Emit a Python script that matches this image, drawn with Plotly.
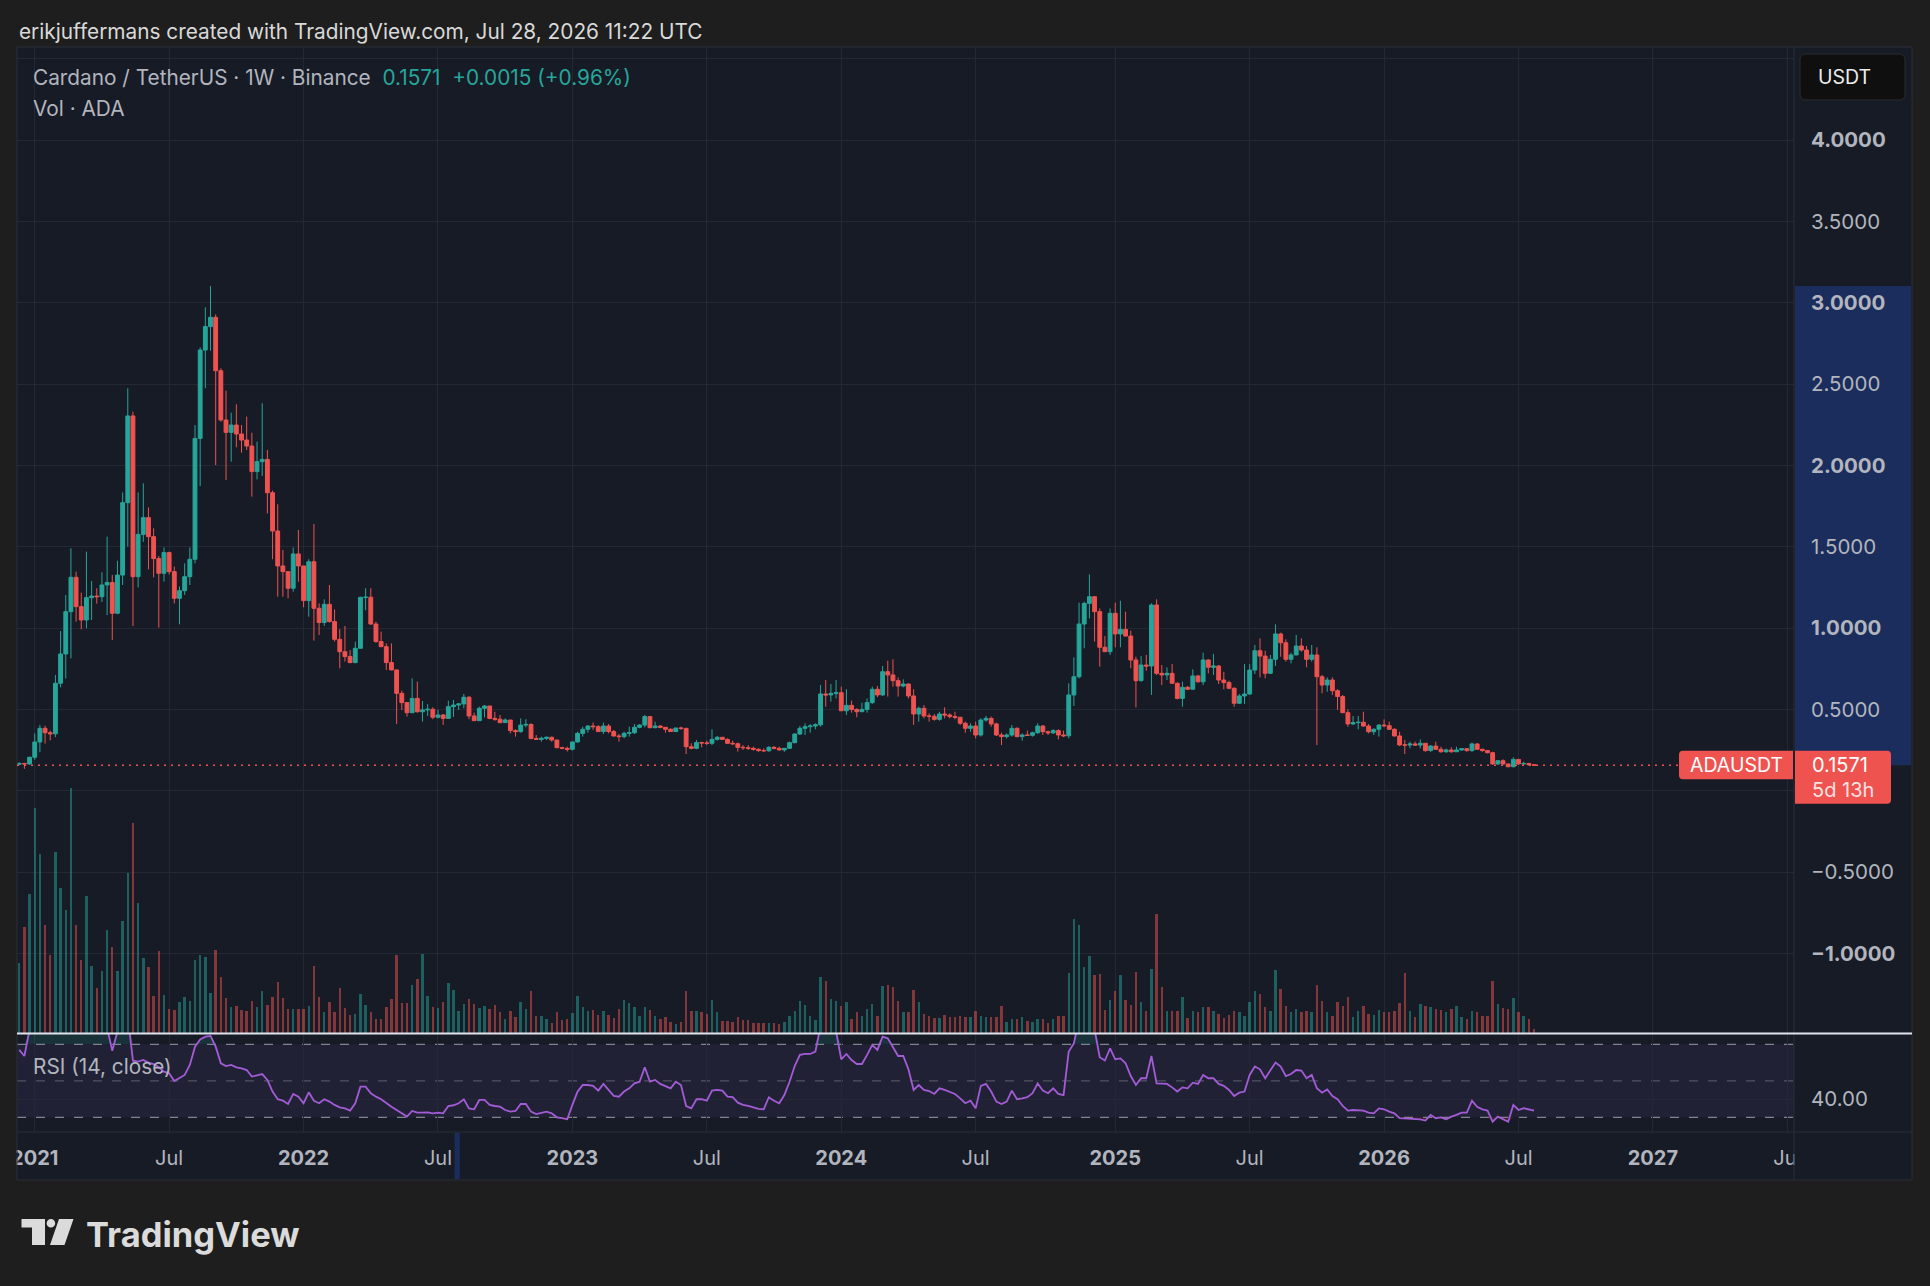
import pandas as pd
import plotly.graph_objects as go

# ---------------- data (weekly ADA/USDT) ----------------
week_start = "2020-12-14"
first_open = 0.163
closes = [
    0.168, 0.165, 0.206, 0.300, 0.384, 0.357, 0.350, 0.661, 0.841, 1.101,
    1.312, 1.132, 1.050, 1.187, 1.197, 1.193, 1.265, 1.280, 1.091, 1.326,
    1.771, 2.304, 1.316, 1.576, 1.679, 1.562, 1.427, 1.337, 1.464, 1.347,
    1.183, 1.230, 1.316, 1.423, 2.166, 2.709, 2.853, 2.910, 2.582, 2.279,
    2.203, 2.248, 2.193, 2.156, 2.119, 1.962, 2.023, 2.037, 1.832, 1.597,
    1.382, 1.347, 1.245, 1.456, 1.382, 1.169, 1.408, 1.122, 1.034, 1.146,
    1.040, 0.931, 0.855, 0.825, 0.788, 0.876, 1.189, 1.190, 1.025, 0.917,
    0.886, 0.788, 0.743, 0.599, 0.542, 0.480, 0.568, 0.486, 0.497, 0.501,
    0.452, 0.466, 0.445, 0.517, 0.527, 0.534, 0.575, 0.460, 0.431, 0.507,
    0.521, 0.445, 0.440, 0.419, 0.435, 0.370, 0.364, 0.404, 0.408, 0.322,
    0.316, 0.322, 0.329, 0.312, 0.265, 0.261, 0.255, 0.300, 0.353, 0.378,
    0.398, 0.394, 0.364, 0.398, 0.364, 0.337, 0.333, 0.353, 0.357, 0.390,
    0.404, 0.456, 0.388, 0.398, 0.390, 0.378, 0.364, 0.386, 0.384, 0.271,
    0.261, 0.296, 0.294, 0.292, 0.316, 0.329, 0.316, 0.292, 0.289, 0.267,
    0.265, 0.261, 0.255, 0.247, 0.246, 0.267, 0.261, 0.251, 0.261, 0.296,
    0.349, 0.384, 0.394, 0.398, 0.406, 0.595, 0.589, 0.599, 0.603, 0.492,
    0.525, 0.500, 0.486, 0.500, 0.542, 0.624, 0.589, 0.732, 0.712, 0.677,
    0.644, 0.656, 0.583, 0.472, 0.507, 0.460, 0.458, 0.439, 0.472, 0.466,
    0.456, 0.452, 0.415, 0.384, 0.398, 0.343, 0.435, 0.445, 0.411, 0.343,
    0.333, 0.343, 0.384, 0.333, 0.343, 0.341, 0.357, 0.398, 0.363, 0.356,
    0.370, 0.343, 0.338, 0.589, 0.701, 1.025, 1.152, 1.193, 1.101, 0.882,
    0.855, 1.091, 0.964, 0.992, 0.951, 0.804, 0.677, 0.773, 0.767, 1.142,
    0.722, 0.712, 0.722, 0.661, 0.568, 0.636, 0.624, 0.706, 0.670, 0.804,
    0.759, 0.767, 0.681, 0.665, 0.630, 0.538, 0.583, 0.595, 0.742, 0.861,
    0.828, 0.722, 0.808, 0.964, 0.910, 0.808, 0.835, 0.890, 0.865, 0.808,
    0.835, 0.701, 0.650, 0.681, 0.615, 0.579, 0.480, 0.411, 0.419, 0.421,
    0.398, 0.363, 0.378, 0.404, 0.400, 0.378, 0.337, 0.282, 0.281, 0.288,
    0.281, 0.292, 0.247, 0.275, 0.255, 0.240, 0.251, 0.240, 0.251, 0.259,
    0.247, 0.288, 0.255, 0.247, 0.234, 0.165, 0.185, 0.165, 0.148, 0.193,
    0.165, 0.168, 0.160, 0.1571,
]
highs = [
    0.175, 0.172, 0.210, 0.353, 0.405, 0.400, 0.370, 0.712, 0.982, 1.203,
    1.490, 1.347, 1.218, 1.470, 1.290, 1.245, 1.343, 1.562, 1.327, 1.414,
    1.834, 2.474, 2.330, 1.834, 1.890, 1.742, 1.613, 1.443, 1.496, 1.470,
    1.378, 1.255, 1.398, 1.496, 2.248, 2.726, 2.972, 3.103, 2.928, 2.597,
    2.459, 2.324, 2.375, 2.248, 2.300, 2.201, 2.146, 2.382, 2.095, 1.845,
    1.761, 1.480, 1.347, 1.496, 1.603, 1.382, 1.423, 1.640, 1.152, 1.177,
    1.265, 1.115, 0.993, 1.013, 0.865, 0.917, 1.193, 1.245, 1.245, 1.040,
    0.978, 0.906, 0.906, 0.743, 0.616, 0.542, 0.691, 0.671, 0.552, 0.533,
    0.513, 0.497, 0.472, 0.554, 0.558, 0.540, 0.595, 0.583, 0.480, 0.517,
    0.527, 0.521, 0.486, 0.466, 0.445, 0.429, 0.378, 0.445, 0.440, 0.415,
    0.343, 0.333, 0.333, 0.333, 0.312, 0.271, 0.271, 0.302, 0.363, 0.394,
    0.404, 0.419, 0.404, 0.419, 0.410, 0.374, 0.349, 0.363, 0.394, 0.410,
    0.410, 0.466, 0.460, 0.425, 0.404, 0.390, 0.384, 0.386, 0.394, 0.378,
    0.292, 0.312, 0.302, 0.308, 0.378, 0.337, 0.329, 0.322, 0.308, 0.296,
    0.281, 0.281, 0.271, 0.261, 0.261, 0.275, 0.275, 0.271, 0.263, 0.302,
    0.353, 0.398, 0.415, 0.410, 0.415, 0.650, 0.681, 0.656, 0.681, 0.640,
    0.624, 0.554, 0.507, 0.541, 0.568, 0.640, 0.644, 0.767, 0.800, 0.808,
    0.697, 0.685, 0.661, 0.624, 0.517, 0.527, 0.476, 0.472, 0.486, 0.513,
    0.476, 0.486, 0.452, 0.425, 0.415, 0.425, 0.445, 0.460, 0.456, 0.419,
    0.357, 0.353, 0.404, 0.390, 0.353, 0.370, 0.363, 0.415, 0.404, 0.370,
    0.378, 0.378, 0.370, 0.661, 0.820, 1.156, 1.162, 1.330, 1.197, 1.121,
    0.951, 1.121, 1.156, 1.168, 1.101, 0.984, 0.824, 0.828, 0.835, 1.152,
    1.177, 0.773, 0.759, 0.779, 0.665, 0.671, 0.644, 0.747, 0.712, 0.849,
    0.808, 0.841, 0.773, 0.732, 0.677, 0.636, 0.595, 0.779, 0.779, 0.896,
    0.937, 0.861, 0.835, 1.023, 0.972, 0.931, 0.849, 0.958, 0.937, 0.890,
    0.896, 0.882, 0.712, 0.697, 0.697, 0.624, 0.589, 0.500, 0.460, 0.460,
    0.486, 0.410, 0.384, 0.410, 0.439, 0.425, 0.384, 0.363, 0.312, 0.302,
    0.302, 0.316, 0.292, 0.281, 0.302, 0.271, 0.259, 0.267, 0.271, 0.263,
    0.261, 0.296, 0.292, 0.259, 0.251, 0.240, 0.189, 0.193, 0.165, 0.206,
    0.193, 0.179, 0.172, 0.163,
]
lows = [
    0.158, 0.135, 0.160, 0.190, 0.237, 0.290, 0.310, 0.330, 0.636, 0.690,
    0.814, 1.040, 0.993, 0.999, 1.050, 1.150, 1.160, 1.080, 0.927, 1.085,
    1.265, 1.501, 1.013, 1.250, 1.530, 1.361, 1.312, 1.003, 1.286, 1.330,
    1.152, 1.023, 1.204, 1.265, 1.398, 1.873, 2.474, 2.705, 2.002, 2.269,
    1.910, 2.023, 2.111, 2.078, 2.095, 1.808, 1.914, 1.935, 1.705, 1.423,
    1.193, 1.193, 1.183, 1.224, 1.285, 1.128, 1.070, 0.923, 0.958, 1.013,
    1.034, 0.917, 0.753, 0.794, 0.784, 0.784, 0.876, 1.110, 1.020, 0.910,
    0.882, 0.743, 0.740, 0.411, 0.497, 0.456, 0.480, 0.480, 0.425, 0.460,
    0.440, 0.445, 0.405, 0.445, 0.455, 0.497, 0.507, 0.440, 0.430, 0.430,
    0.452, 0.440, 0.430, 0.415, 0.419, 0.353, 0.333, 0.357, 0.390, 0.316,
    0.312, 0.302, 0.312, 0.302, 0.261, 0.255, 0.241, 0.247, 0.296, 0.333,
    0.357, 0.374, 0.363, 0.349, 0.353, 0.333, 0.302, 0.323, 0.333, 0.349,
    0.384, 0.390, 0.384, 0.384, 0.384, 0.357, 0.363, 0.363, 0.374, 0.226,
    0.255, 0.255, 0.267, 0.281, 0.281, 0.308, 0.312, 0.288, 0.281, 0.241,
    0.251, 0.251, 0.247, 0.240, 0.240, 0.240, 0.255, 0.247, 0.240, 0.261,
    0.292, 0.343, 0.343, 0.357, 0.378, 0.394, 0.517, 0.548, 0.568, 0.492,
    0.466, 0.480, 0.452, 0.486, 0.480, 0.534, 0.575, 0.583, 0.579, 0.640,
    0.579, 0.636, 0.568, 0.405, 0.425, 0.445, 0.425, 0.431, 0.431, 0.445,
    0.445, 0.439, 0.405, 0.357, 0.363, 0.322, 0.333, 0.425, 0.394, 0.337,
    0.281, 0.322, 0.333, 0.329, 0.308, 0.337, 0.333, 0.349, 0.343, 0.343,
    0.349, 0.316, 0.330, 0.322, 0.521, 0.691, 0.876, 1.060, 0.917, 0.763,
    0.855, 0.835, 0.882, 0.882, 0.951, 0.753, 0.513, 0.671, 0.738, 0.589,
    0.712, 0.650, 0.681, 0.656, 0.562, 0.517, 0.620, 0.624, 0.665, 0.650,
    0.722, 0.712, 0.656, 0.624, 0.624, 0.517, 0.534, 0.534, 0.589, 0.718,
    0.697, 0.691, 0.718, 0.767, 0.824, 0.794, 0.783, 0.835, 0.855, 0.759,
    0.794, 0.281, 0.599, 0.609, 0.589, 0.497, 0.480, 0.394, 0.404, 0.378,
    0.394, 0.353, 0.343, 0.333, 0.390, 0.374, 0.333, 0.275, 0.226, 0.261,
    0.275, 0.261, 0.240, 0.240, 0.251, 0.234, 0.234, 0.234, 0.240, 0.247,
    0.240, 0.240, 0.251, 0.240, 0.230, 0.159, 0.159, 0.159, 0.144, 0.144,
    0.159, 0.160, 0.155, 0.154,
]
volumes = [  # millions of ADA (approx.)
    1715, 2604, 3405, 5513, 4386, 2646, 1918, 4425, 3543, 3021,
    6003, 2646, 1796, 3347, 1649, 1110, 1526, 2531, 2097, 1526,
    2751, 3910, 5135, 3192, 1838, 1624, 897, 2016, 938, 588,
    564, 750, 872, 791, 1796, 1918, 1869, 987, 2041, 1379,
    858, 627, 669, 564, 546, 791, 644, 1019, 693, 889,
    1250, 858, 588, 578, 578, 588, 669, 1649, 872, 505,
    750, 505, 1103, 603, 448, 466, 956, 686, 505, 343,
    343, 644, 833, 1918, 725, 725, 1183, 1323, 1936, 914,
    644, 603, 750, 1222, 1053, 529, 710, 833, 710, 613,
    669, 588, 693, 505, 343, 546, 400, 750, 588, 1019,
    424, 424, 343, 236, 505, 318, 343, 487, 914, 627,
    546, 564, 448, 546, 448, 368, 588, 809, 725, 644,
    424, 627, 564, 424, 343, 383, 260, 220, 277, 1019,
    546, 529, 522, 466, 809, 522, 302, 302, 260, 383,
    318, 318, 236, 236, 236, 236, 236, 220, 260, 424,
    546, 774, 693, 424, 318, 1379, 1264, 833, 791, 669,
    750, 343, 505, 424, 588, 710, 424, 1159, 1183, 1134,
    774, 505, 522, 1053, 750, 466, 424, 368, 368, 448,
    400, 400, 424, 383, 383, 546, 424, 400, 383, 383,
    669, 260, 343, 343, 383, 302, 277, 343, 343, 236,
    343, 424, 424, 1461, 2793, 2646, 1607, 1894, 1421, 1446,
    564, 809, 1019, 1421, 809, 693, 1485, 750, 546, 1568,
    2916, 1134, 529, 546, 546, 889, 368, 546, 505, 644,
    627, 546, 466, 368, 448, 546, 505, 424, 750, 1019,
    956, 644, 529, 1544, 1078, 669, 505, 588, 505, 529,
    505, 1183, 791, 505, 424, 750, 669, 872, 400, 529,
    669, 466, 448, 564, 505, 505, 546, 725, 1461, 546,
    383, 710, 669, 627, 588, 564, 505, 588, 669, 400,
    343, 546, 505, 424, 424, 1264, 710, 613, 588, 858,
    505, 407, 350, 105,
]
rsi_values = [
    66.9, 63.6, 78, 86, 88, 85, 83, 90, 92, 93,
    94, 88, 85, 87, 86, 85, 84, 79, 66.5, 77,
    81, 85, 61.0, 60.5, 61.4, 60.0, 59.2, 57.4, 55.0, 54.1,
    49.9, 51.4, 53.2, 58.7, 68.7, 72.7, 74.2, 74.6, 68.7, 59.6,
    58.1, 58.7, 57.4, 56.8, 55.9, 52.3, 53.2, 53.7, 50.5, 44.1,
    39.9, 39.1, 37.3, 42.8, 41.3, 37.7, 43.7, 39.1, 37.7, 39.9,
    38.6, 36.8, 35.5, 34.9, 33.7, 37.7, 46.8, 46.8, 43.2, 41.3,
    39.9, 37.7, 35.8, 34.0, 32.2, 30.4, 33.5, 32.6, 32.6, 32.7,
    32.2, 32.6, 32.2, 36.2, 36.6, 37.7, 39.9, 34.9, 34.4, 39.5,
    39.5, 36.8, 36.2, 35.8, 34.0, 33.1, 33.5, 37.3, 37.3, 33.1,
    31.8, 32.6, 33.1, 32.2, 30.0, 29.5, 28.9, 36.8, 44.1, 47.7,
    47.7, 47.2, 44.6, 48.3, 45.3, 41.7, 41.3, 44.1, 45.9, 48.6,
    49.5, 57.4, 49.5, 50.5, 48.3, 47.2, 45.9, 49.5, 47.7, 36.2,
    34.9, 39.9, 39.9, 39.1, 44.6, 45.0, 44.6, 41.3, 41.0, 38.0,
    36.8, 36.2, 35.3, 34.6, 34.4, 41.0, 39.1, 37.7, 42.2, 49.5,
    58.1, 64.2, 64.7, 64.7, 66.0, 80, 78, 77, 77, 61.8,
    64.7, 61.4, 59.2, 59.2, 64.2, 69.6, 66.9, 74.2, 73.3, 68.7,
    63.6, 63.6, 56.3, 45.0, 47.7, 45.0, 44.4, 42.8, 45.9, 45.0,
    43.7, 42.8, 40.4, 37.7, 39.1, 34.9, 47.2, 48.3, 44.1, 38.6,
    37.3, 38.6, 44.6, 39.9, 40.4, 41.0, 43.2, 48.6, 44.6, 43.2,
    45.9, 42.8, 42.2, 66.0, 70.5, 84, 87, 88, 78, 62.9,
    61.1, 67.8, 61.8, 62.3, 59.6, 52.6, 47.7, 51.4, 51.4, 63.6,
    48.6, 48.3, 48.3, 46.4, 44.1, 46.4, 45.9, 49.0, 48.3, 53.2,
    51.4, 51.4, 48.3, 47.2, 45.0, 41.7, 43.5, 44.1, 53.2, 57.8,
    56.3, 51.4, 55.9, 60.0, 57.8, 52.6, 53.7, 55.9, 55.6, 51.4,
    53.2, 45.9, 43.5, 45.3, 41.7, 39.9, 36.2, 33.7, 34.0, 33.8,
    33.7, 32.6, 32.2, 34.9, 34.4, 33.1, 32.2, 29.5, 29.3, 29.5,
    28.9, 28.9, 28.2, 31.3, 29.5, 30.0, 28.9, 30.4, 31.3, 32.6,
    32.6, 39.1, 35.8, 34.4, 33.7, 27.6, 30.4, 28.9, 27.6, 36.8,
    34.0, 35.0, 34.4, 33.7,
]
time_tick_dates = ["2021-01-04", "2021-07-05", "2022-01-03", "2022-07-04", "2023-01-02",
                   "2023-07-03", "2024-01-01", "2024-07-01", "2025-01-06", "2025-07-07",
                   "2026-01-05", "2026-07-06", "2027-01-04", "2027-07-05"]
time_tick_labels = ["2021", "Jul", "2022", "Jul", "2023", "Jul", "2024", "Jul",
                    "2025", "Jul", "2026", "Jul", "2027", "Jul"]
price_tick_values = [-1.5, -1.0, -0.5, 0.0, 0.5, 1.0, 1.5, 2.0, 2.5, 3.0, 3.5, 4.0, 4.5]
price_tick_labels = ["", "−1.0000", "−0.5000", "", "0.5000", "1.0000", "1.5000",
                     "2.0000", "2.5000", "3.0000", "3.5000", "4.0000", ""]
rsi_levels = [70, 50, 30]
rsi_tick_values = [40]
rsi_tick_labels = ["40.00"]
selected_bar_range = ["2022-07-26 12:00", "2022-08-02 12:00"]

header_text = "erikjuffermans created with TradingView.com, Jul 28, 2026 11:22 UTC"
title_text = "Cardano / TetherUS · 1W · Binance"
quote_text = "0.1571\u00a0\u00a0+0.0015 (+0.96%)"
vol_text = "Vol · ADA"
rsi_text = "RSI (14, close)"
symbol = "ADAUSDT"
price_text = "0.1571"
countdown_text = "5d 13h"
currency_text = "USDT"

n = len(closes)
assert len(highs) == n and len(lows) == n and len(volumes) == n and len(rsi_values) == n
dates = pd.date_range(week_start, periods=n, freq="7D")
opens = [first_open] + closes[:-1]
last_close = closes[-1]
all_time_high = max(highs)

# ---------------- styling / geometry ----------------
W, H = 1930, 1286
PL, PR, PT, PB = 17, 1794, 48, 1132          # plot area in px
PRICE_BOTTOM = 1033                          # bottom of price pane in px
PANEL_R, PANEL_T, PANEL_B = 1912, 47, 1180
PRICE_MIN, PRICE_MAX = -1.4887, 4.5655
RSI_MIN, RSI_MAX = 21.95, 75.64
VOL_MAX = 24130
X_RANGE = ["2020-12-11", "2027-07-14"]

OUTER = "#1e1e1e"
PANEL = "#171b26"
GRID = "#242834"
BORDER = "#2a2e39"
TXT = "#b2b5be"
UP = "#26a69a"
DOWN = "#ef5350"
BLUE_SEL = "rgba(41,98,255,0.25)"
FONT = "Inter"


def xp(px):
    return (px - PL) / (PR - PL)


def yp(py):
    return (PB - py) / (PB - PT)


def price_px(p):
    return PT + (PRICE_MAX - p) / (PRICE_MAX - PRICE_MIN) * (PRICE_BOTTOM - PT)


def P(px, py):
    return f"{xp(px):.6f},{yp(py):.6f}"


def rrect_path(x0, y0, x1, y1, r, tl=True, tr=True, br=True, bl=True):
    s = ["M " + P(x0 + (r if tl else 0), y0), "L " + P(x1 - (r if tr else 0), y0)]
    if tr:
        s.append("Q " + P(x1, y0) + " " + P(x1, y0 + r))
    s.append("L " + P(x1, y1 - (r if br else 0)))
    if br:
        s.append("Q " + P(x1, y1) + " " + P(x1 - r, y1))
    s.append("L " + P(x0 + (r if bl else 0), y1))
    if bl:
        s.append("Q " + P(x0, y1) + " " + P(x0, y1 - r))
    s.append("L " + P(x0, y0 + (r if tl else 0)))
    if tl:
        s.append("Q " + P(x0, y0) + " " + P(x0 + r, y0))
    s.append("Z")
    return " ".join(s)


def poly_path(pts):
    return "M " + " L ".join(P(x, y) for x, y in pts) + " Z"


fig = go.Figure()

# volume (underneath candles)
vol_colors = ["rgba(38,166,154,0.5)" if c >= o else "rgba(239,83,80,0.5)" for o, c in zip(opens, closes)]
fig.add_trace(go.Bar(
    x=dates, y=volumes, marker=dict(color=vol_colors, line=dict(width=0)),
    width=3.3 * 86400000, xaxis="x", yaxis="y", hoverinfo="skip", showlegend=False))

# candles
fig.add_trace(go.Candlestick(
    x=dates, open=opens, high=highs, low=lows, close=closes,
    xaxis="x", yaxis="y2", whiskerwidth=0,
    increasing=dict(line=dict(color=UP, width=1), fillcolor=UP),
    decreasing=dict(line=dict(color=DOWN, width=1), fillcolor=DOWN),
    hoverinfo="skip", showlegend=False))

# RSI fills and line
fig.add_trace(go.Scatter(x=dates, y=[rsi_levels[0]] * n, mode="lines", line=dict(width=0),
                         xaxis="x", yaxis="y3", hoverinfo="skip", showlegend=False))
fig.add_trace(go.Scatter(x=dates, y=[max(v, rsi_levels[0]) for v in rsi_values], mode="lines",
                         line=dict(width=0), fill="tonexty", fillcolor="rgba(38,166,154,0.16)",
                         xaxis="x", yaxis="y3", hoverinfo="skip", showlegend=False))
fig.add_trace(go.Scatter(x=dates, y=[rsi_levels[2]] * n, mode="lines", line=dict(width=0),
                         xaxis="x", yaxis="y3", hoverinfo="skip", showlegend=False))
fig.add_trace(go.Scatter(x=dates, y=[min(v, rsi_levels[2]) for v in rsi_values], mode="lines",
                         line=dict(width=0), fill="tonexty", fillcolor="rgba(239,83,80,0.16)",
                         xaxis="x", yaxis="y3", hoverinfo="skip", showlegend=False))
fig.add_trace(go.Scatter(x=dates, y=rsi_values, mode="lines", line=dict(color="#a35cd6", width=1.8),
                         xaxis="x", yaxis="y3", hoverinfo="skip", showlegend=False))

# ---------------- shapes ----------------
shapes = []
shapes.append(dict(type="rect", xref="paper", yref="paper", x0=xp(PL), x1=xp(PANEL_R),
                   y0=yp(PANEL_B), y1=yp(PANEL_T), fillcolor=PANEL, line=dict(width=0), layer="below"))
shapes.append(dict(type="rect", xref="paper", yref="y3", x0=0, x1=1, y0=rsi_levels[2], y1=rsi_levels[0],
                   fillcolor="rgba(126,87,194,0.10)", line=dict(width=0), layer="below"))
shapes.append(dict(type="rect", xref="paper", yref="y2", x0=xp(PR + 1), x1=xp(PANEL_R - 1),
                   y0=last_close, y1=all_time_high, fillcolor=BLUE_SEL, line=dict(width=0), layer="below"))
shapes.append(dict(type="rect", xref="x", yref="paper", x0=selected_bar_range[0], x1=selected_bar_range[1],
                   y0=yp(PANEL_B - 1), y1=yp(PB + 1), fillcolor=BLUE_SEL, line=dict(width=0), layer="below"))
for lvl, col in zip(rsi_levels, ["rgba(140,143,154,0.9)", "rgba(120,123,134,0.55)", "rgba(140,143,154,0.9)"]):
    shapes.append(dict(type="line", xref="paper", yref="y3", x0=0, x1=1, y0=lvl, y1=lvl,
                       line=dict(color=col, width=1.2, dash="9px,10px"), layer="between"))
shapes.append(dict(type="rect", xref="paper", yref="paper", x0=xp(0), x1=xp(PL - 0.5),
                   y0=yp(PANEL_B + 2), y1=yp(PB + 1), fillcolor=OUTER, line=dict(width=0), layer="above"))
shapes.append(dict(type="rect", xref="paper", yref="paper", x0=xp(PR + 0.5), x1=xp(PANEL_R - 0.5),
                   y0=yp(PANEL_B - 0.5), y1=yp(PB + 1), fillcolor=PANEL, line=dict(width=0), layer="above"))
shapes.append(dict(type="rect", xref="paper", yref="paper", x0=xp(PL), x1=xp(PANEL_R),
                   y0=yp(PANEL_B), y1=yp(PANEL_T), fillcolor="rgba(0,0,0,0)",
                   line=dict(color=BORDER, width=1), layer="above"))
shapes.append(dict(type="line", xref="paper", yref="paper", x0=1, x1=1, y0=yp(PANEL_B), y1=yp(PANEL_T),
                   line=dict(color=BORDER, width=1), layer="above"))
shapes.append(dict(type="line", xref="paper", yref="paper", x0=xp(PL), x1=xp(PANEL_R), y0=0, y1=0,
                   line=dict(color=BORDER, width=1), layer="above"))
shapes.append(dict(type="line", xref="paper", yref="paper", x0=xp(PL), x1=xp(PANEL_R),
                   y0=yp(PRICE_BOTTOM + 0.5), y1=yp(PRICE_BOTTOM + 0.5),
                   line=dict(color="#e0e3eb", width=2), layer="above"))
lp_y = price_px(last_close)
label_left = 1679
shapes.append(dict(type="line", xref="paper", yref="y2", x0=0, x1=xp(label_left), y0=last_close, y1=last_close,
                   line=dict(color=DOWN, width=1.6, dash="2px,5px"), layer="above"))
shapes.append(dict(type="path", xref="paper", yref="paper",
                   path=rrect_path(label_left, lp_y - 14.5, PR - 1, lp_y + 14, 4, tr=False, br=False),
                   fillcolor=DOWN, line=dict(width=0), layer="above"))
shapes.append(dict(type="path", xref="paper", yref="paper",
                   path=rrect_path(PR + 1, lp_y - 14.5, 1891, lp_y + 38.5, 4, tl=False, bl=False),
                   fillcolor=DOWN, line=dict(width=0), layer="above"))
shapes.append(dict(type="path", xref="paper", yref="paper",
                   path=rrect_path(1800, 54, 1905, 100, 6),
                   fillcolor="#0f0f10", line=dict(color="#2c2c2e", width=1), layer="above"))
LOGO = "#dbdbdb"
shapes.append(dict(type="path", xref="paper", yref="paper",
                   path=poly_path([(21.5, 1219), (45, 1219), (45, 1245), (32, 1245), (32, 1227.5), (21.5, 1227.5)]),
                   fillcolor=LOGO, line=dict(width=0), layer="above"))
shapes.append(dict(type="circle", xref="paper", yref="paper", x0=xp(46.6), x1=xp(55.2),
                   y0=yp(1227.6), y1=yp(1219), fillcolor=LOGO, line=dict(width=0), layer="above"))
shapes.append(dict(type="path", xref="paper", yref="paper",
                   path=poly_path([(59, 1219), (73.5, 1219), (64.5, 1245), (50, 1245)]),
                   fillcolor=LOGO, line=dict(width=0), layer="above"))


# ---------------- annotations ----------------
def note(text, px, py, size=19, color=TXT, xanchor="left", weight=400, family=FONT):
    return dict(text=text, x=xp(px), y=yp(py), xref="paper", yref="paper", showarrow=False,
                xanchor=xanchor, yanchor="middle", font=dict(family=family, size=size, color=color, weight=weight))


annotations = [
    note(header_text, 16.5, 31, size=20.8, color="#d9d9d9"),
    note(f"{title_text}\u00a0\u00a0<span style='color:{UP}'>{quote_text}</span>", 30.5, 78, size=20.8, color=TXT),
    note(vol_text, 30.5, 108, size=20.8, color=TXT),
    note(rsi_text, 30.5, 1066, size=20.8, color=TXT),
    note(currency_text, 1816, 77, size=19.5, color="#ececec"),
    note(symbol, (label_left + PR) / 2, lp_y, size=19.5, color="#ffffff", xanchor="center"),
    note(price_text, 1810, lp_y, size=20, color="#ffffff"),
    note(countdown_text, 1810, lp_y + 24.5, size=20, color="rgba(255,255,255,0.85)"),
    note("TradingView", 84, 1234, size=34.5, color=LOGO, weight=700),
]

time_ticktext = [lab if lab == "Jul" else f"<b>{lab}</b>" for lab in time_tick_labels]
price_ticktext = [f"<b>{lab}</b>" if (lab and float(v).is_integer()) else lab
                  for v, lab in zip(price_tick_values, price_tick_labels)]

price_domain = [yp(PRICE_BOTTOM), 1]
rsi_domain = [0, yp(PRICE_BOTTOM + 1)]

fig.update_layout(
    width=W, height=H, autosize=False,
    margin=dict(l=PL, r=W - PR, t=PT, b=H - PB, pad=0),
    paper_bgcolor=OUTER, plot_bgcolor=PANEL,
    font=dict(family=FONT, color=TXT),
    showlegend=False, hovermode=False,
    boxgap=0.22, boxgroupgap=0.05, bargap=0,
    xaxis=dict(type="date", range=X_RANGE, domain=[0, 1], anchor="y3",
               tickmode="array", tickvals=time_tick_dates, ticktext=time_ticktext,
               tickfont=dict(family=FONT, size=20, color=TXT), ticks="", ticklabelstandoff=12,
               showgrid=True, gridcolor=GRID, gridwidth=1, zeroline=False, showline=False,
               rangeslider=dict(visible=False), fixedrange=True),
    yaxis=dict(domain=price_domain, range=[0, VOL_MAX], visible=False, fixedrange=True),
    yaxis2=dict(overlaying="y", side="right", anchor="x", range=[PRICE_MIN, PRICE_MAX],
                tickmode="array", tickvals=price_tick_values, ticktext=price_ticktext,
                tickfont=dict(family=FONT, size=20.5, color=TXT), ticks="", ticklabelstandoff=16,
                showgrid=True, gridcolor=GRID, gridwidth=1, zeroline=False, showline=False, fixedrange=True),
    yaxis3=dict(domain=rsi_domain, side="right", anchor="x", range=[RSI_MIN, RSI_MAX],
                tickmode="array", tickvals=rsi_tick_values, ticktext=rsi_tick_labels,
                tickfont=dict(family=FONT, size=20.5, color=TXT), ticks="", ticklabelstandoff=16,
                showgrid=True, gridcolor=GRID, gridwidth=1, zeroline=False, showline=False, fixedrange=True),
    shapes=shapes,
    annotations=annotations,
)

fig.write_html("out.html", config={"displayModeBar": False, "staticPlot": True})
